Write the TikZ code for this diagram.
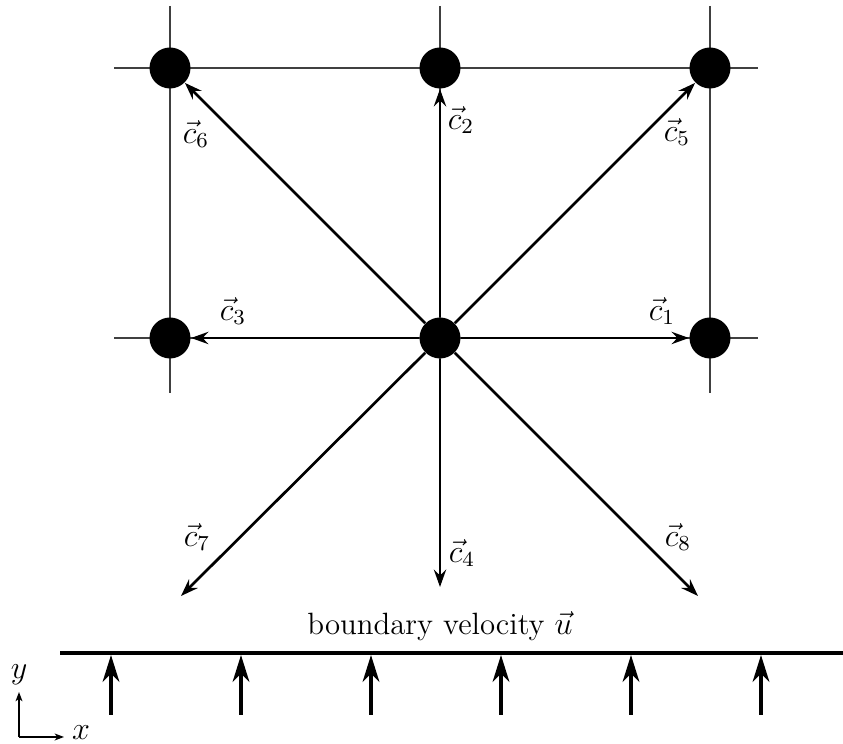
\documentclass[tikz,border=0pt]{standalone}
\usetikzlibrary{arrows.meta}
\begin{document}
\begin{tikzpicture}[x=0.37333pt,y=-0.37333pt,
  gridline/.style={line width=0.5pt,black!75},
  site/.style={circle,fill=black,inner sep=0pt,minimum size=15.3pt},
  vel/.style={line width=1pt,-{Stealth[length=6.5pt,width=4.6pt,inset=2.2pt]}},
  bvel/.style={line width=1.5pt,-{Stealth[length=10pt,width=6.2pt,inset=3pt]}},
  axis/.style={line width=0.5pt,-{Stealth[length=3.5pt,width=2.6pt,inset=1pt]}},
  lbl/.style={inner sep=0pt,font=\large}]
\useasboundingbox (0,0) rectangle (843,744);
% lattice lines
\draw[gridline] (114,68) -- (758,68);
\draw[gridline] (114,338) -- (758,338);
\draw[gridline] (170,6) -- (170,393);
\draw[gridline] (440,6) -- (440,393);
\draw[gridline] (710,6) -- (710,393);
% lattice sites
\node[site] (C) at (440,338) {};
\node[site] (R) at (710,338) {};
\node[site] (L) at (170,338) {};
\node[site] (T) at (440,68) {};
\node[site] (TR) at (710,68) {};
\node[site] (TL) at (170,68) {};
\coordinate (E4) at (440,587);
\coordinate (E7) at (181,596);
\coordinate (E8) at (698,596);
% velocity vectors
\draw[vel] (C) -- (R);
\draw[vel] (C) -- (T);
\draw[vel] (C) -- (L);
\draw[vel] (C) -- (E4);
\draw[vel] (C) -- (TR);
\draw[vel] (C) -- (TL);
\draw[vel] (C) -- (E7);
\draw[vel] (C) -- (E8);
% labels
\node[lbl] (l1) at (662,311) {$\vec{c}_1$};
\node[lbl] (l2) at (461,120) {$\vec{c}_2$};
\node[lbl] (l3) at (233,311) {$\vec{c}_3$};
\node[lbl] (l4) at (462,553) {$\vec{c}_4$};
\node[lbl] (l5) at (677,132) {$\vec{c}_5$};
\node[lbl] (l6) at (196,134) {$\vec{c}_6$};
\node[lbl] (l7) at (197,537) {$\vec{c}_7$};
\node[lbl] (l8) at (678,537) {$\vec{c}_8$};
% boundary
\node[inner sep=0pt,font=\fontsize{11.5}{14}\selectfont] (bt) at (440,626) {boundary velocity $\vec{u}$};
\coordinate (BL) at (60,653);
\coordinate (BR) at (843,653);
\draw[line width=1.3pt] (BL) -- (BR);
\foreach \i/\xx in {1/111,2/241,3/371,4/501,5/631,6/761}{
  \coordinate (bs\i) at (\xx,715);
  \coordinate (be\i) at (\xx,655);
  \draw[bvel] (bs\i) -- (be\i);
}
% axes
\coordinate (O) at (19,737);
\coordinate (Ay) at (19,692);
\coordinate (Ax) at (64,737);
\draw[axis] (O) -- (Ay);
\draw[axis] (O) -- (Ax);
\node[lbl] (ly) at (19,675) {$y$};
\node[lbl] (lx) at (81,733) {$x$};
\end{tikzpicture}
\end{document}
